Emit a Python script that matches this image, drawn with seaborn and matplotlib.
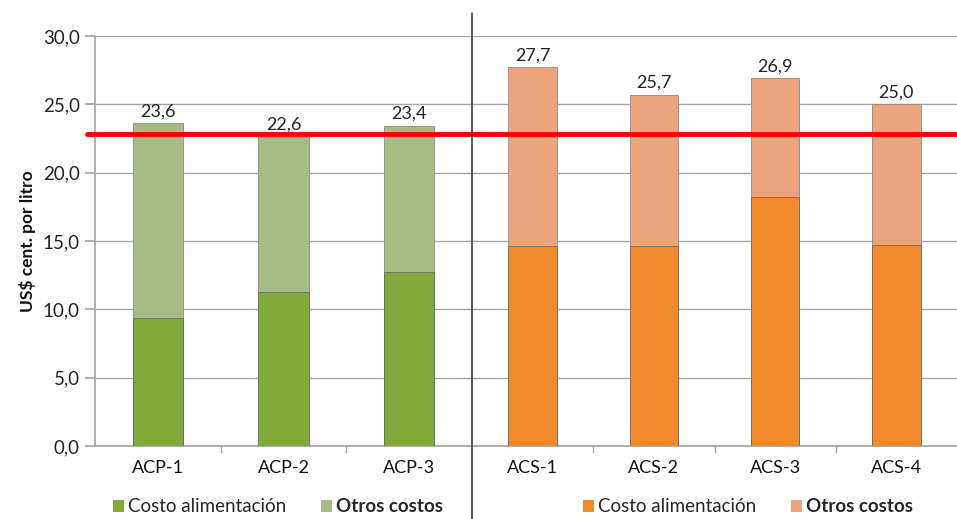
import numpy as np
import pandas as pd
import seaborn as sns
import matplotlib.pyplot as plt
from matplotlib.patches import Patch
from matplotlib.lines import Line2D

# data
acp_names = ["ACP-1", "ACP-2", "ACP-3"]
acp_feed = [9.4, 11.3, 12.7]
acp_total = [23.6, 22.6, 23.4]

acs_names = ["ACS-1", "ACS-2", "ACS-3", "ACS-4"]
acs_feed = [14.6, 14.6, 18.2, 14.7]
acs_total = [27.7, 25.7, 26.9, 25.0]

ref_line = 22.8
y_ticks = [0, 5, 10, 15, 20, 25, 30]

sns.set_theme(style="white")
plt.rcParams["font.family"] = ["Lato", "DejaVu Sans"]

green_feed = "#82a93c"
green_other = "#a6bc84"
orange_feed = "#f0892c"
orange_other = "#eba47c"

fig = plt.figure(figsize=(9.57, 5.19), dpi=100)
W, H = 957, 519
bottom = (H - 446) / H
height = 410 / H
ax1 = fig.add_axes([95 / W, bottom, (472 - 95) / W, height])
ax2 = fig.add_axes([472 / W, bottom, (W - 472) / W, height])


def draw(ax, names, feed, total, c_feed, c_other):
    df = pd.DataFrame({"name": names, "feed": feed, "total": total})
    for y in y_ticks:
        ax.axhline(y, color="#a6a6a6", lw=1.0, zorder=0)
    sns.barplot(data=df, x="name", y="total", color=c_other, width=0.4,
                saturation=1, ax=ax, zorder=2, edgecolor="#8a8a8a", linewidth=0.6)
    sns.barplot(data=df, x="name", y="feed", color=c_feed, width=0.4,
                saturation=1, ax=ax, zorder=3, edgecolor="#6b6b6b", linewidth=0.6)
    for i, t in enumerate(total):
        ax.text(i, t + 0.3, f"{t:.1f}".replace(".", ","), ha="center",
                va="bottom", fontsize=13, color="#222222", zorder=7)
    ax.set_ylim(0, 30)
    ax.set_xlim(-0.5, len(names) - 0.5)
    ax.set_xlabel("")
    ax.set_ylabel("")
    ax.set_xticks(range(len(names)))
    ax.set_xticklabels(names, fontsize=13, color="#111111")
    ax.set_xticks(np.arange(0.5, len(names) - 0.5), minor=True)
    ax.tick_params(axis="x", which="major", length=0, pad=10)
    ax.tick_params(axis="x", which="minor", length=5, color="#a6a6a6", bottom=True)
    for s in ["top", "right"]:
        ax.spines[s].set_visible(False)
    ax.spines["bottom"].set_color("#a6a6a6")
    ax.axhline(ref_line, color="#ff0000", lw=3.5, zorder=5,
               xmin=-0.02 if ax is ax1 else 0, xmax=1, clip_on=False)


draw(ax1, acp_names, acp_feed, acp_total, green_feed, green_other)
draw(ax2, acs_names, acs_feed, acs_total, orange_feed, orange_other)

ax1.set_yticks(y_ticks)
ax1.set_yticklabels([f"{v:.1f}".replace(".", ",") for v in y_ticks],
                    fontsize=13.5, color="#222222")
ax1.tick_params(axis="y", length=7, color="#a6a6a6", left=True, pad=4)
ax1.spines["left"].set_color("#a6a6a6")
ax1.set_ylabel("US$ cent. por litro", fontsize=12.5, fontweight="bold",
               color="#111111", labelpad=5)

ax2.spines["left"].set_visible(False)
ax2.set_yticks([])

# divider between the two groups
fig.add_artist(Line2D([472 / W, 472 / W], [0, 1 - 13 / H], color="#404040", lw=1.2))

for ax, cf, co, cx in [(ax1, green_feed, green_other, 278 / W),
                       (ax2, orange_feed, orange_other, 748 / W)]:
    handles = [Patch(facecolor=cf, edgecolor="none"),
               Patch(facecolor=co, edgecolor="none")]
    leg = fig.legend(handles, ["Costo alimentación", "Otros costos"],
                     loc="center", bbox_to_anchor=(cx, 1 - 507 / H), ncol=2,
                     frameon=False, fontsize=13.5, handlelength=0.6,
                     handleheight=0.6, handletextpad=0.25, columnspacing=1.8)
    leg.get_texts()[1].set_fontweight("bold")

fig.savefig("out.png", dpi=100)
